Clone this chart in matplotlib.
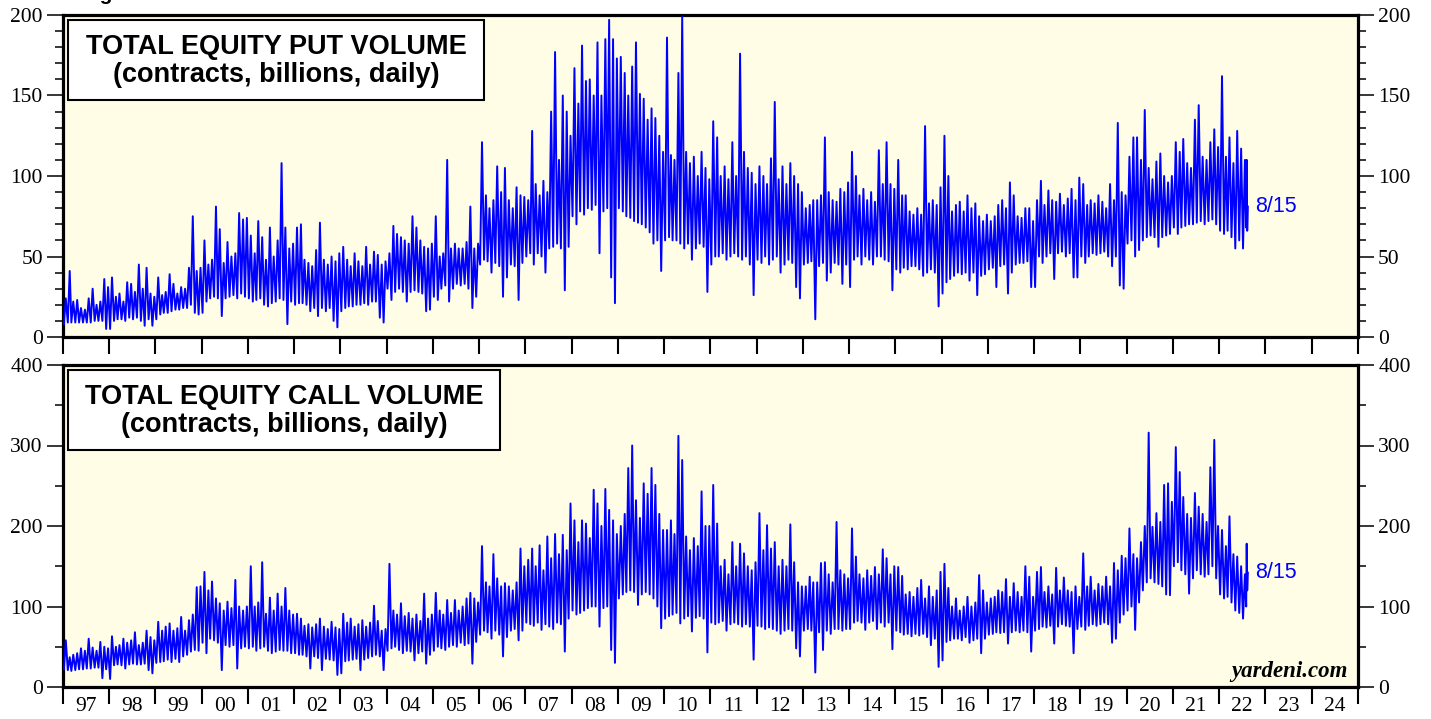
import matplotlib
matplotlib.use('Agg')
import matplotlib.pyplot as plt
import matplotlib.dates as mdates
from matplotlib.patches import Rectangle
from matplotlib.ticker import MultipleLocator, NullFormatter
import numpy as np
import pandas as pd

# monthly low / high readings, Jan 1997 .. Jul 2022 (one row per year)
put_lo = [
    8, 9, 9, 9, 9, 9, 9, 9, 10, 10, 10, 5,
    5, 10, 11, 11, 10, 12, 11, 12, 10, 7, 11, 7,
    11, 14, 15, 15, 16, 17, 17, 18, 18, 20, 15, 14,
    15, 22, 24, 25, 24, 13, 24, 25, 26, 24, 27, 25,
    24, 22, 23, 24, 20, 19, 21, 22, 24, 23, 8, 22,
    20, 21, 21, 20, 16, 18, 13, 18, 16, 18, 10, 6,
    16, 18, 19, 19, 20, 20, 21, 20, 22, 22, 12, 9,
    30, 23, 28, 30, 28, 22, 28, 29, 28, 27, 16, 17,
    25, 23, 30, 32, 22, 30, 33, 32, 33, 30, 18, 25,
    45, 48, 47, 40, 46, 44, 25, 37, 45, 44, 23, 46,
    50, 52, 45, 52, 50, 40, 55, 56, 58, 55, 29, 56,
    75, 70, 78, 76, 80, 79, 82, 52, 78, 80, 37, 21,
    80, 78, 75, 74, 72, 71, 70, 68, 65, 58, 60, 41,
    60, 62, 60, 60, 58, 55, 58, 48, 55, 58, 56, 28,
    45, 50, 50, 52, 48, 50, 52, 50, 48, 50, 45, 26,
    48, 46, 50, 45, 48, 50, 40, 45, 48, 46, 31, 24,
    45, 46, 47, 11, 44, 46, 35, 40, 46, 45, 33, 45,
    31, 48, 50, 45, 50, 48, 45, 50, 50, 48, 47, 29,
    42, 40, 43, 42, 44, 44, 42, 38, 40, 42, 40, 19,
    27, 34, 36, 38, 40, 39, 40, 35, 40, 26, 38, 39,
    42, 43, 31, 44, 45, 27, 40, 45, 46, 46, 47, 31,
    31, 50, 46, 50, 52, 36, 52, 53, 50, 52, 37, 37,
    50, 46, 50, 52, 51, 52, 53, 50, 44, 50, 32, 30,
    58, 60, 50, 54, 60, 62, 63, 62, 56, 62, 63, 64,
    68, 64, 68, 69, 70, 70, 71, 72, 70, 72, 73, 70,
    66, 64, 66, 62, 55, 60, 55,
]
put_hi = [
    24, 41, 22, 23, 18, 17, 24, 30, 20, 22, 36, 31,
    37, 25, 27, 22, 34, 33, 28, 45, 30, 43, 27, 25,
    37, 26, 28, 39, 33, 27, 31, 30, 43, 75, 41, 43,
    60, 45, 48, 81, 67, 46, 59, 50, 52, 77, 73, 74,
    63, 52, 72, 62, 48, 68, 50, 60, 108, 68, 55, 58,
    68, 70, 48, 46, 44, 54, 71, 48, 45, 50, 47, 52,
    56, 48, 44, 52, 47, 44, 56, 45, 53, 51, 45, 47,
    52, 69, 64, 62, 60, 58, 75, 68, 60, 56, 55, 58,
    75, 50, 52, 110, 55, 58, 55, 55, 59, 81, 55, 58,
    121, 88, 80, 85, 106, 90, 105, 85, 80, 93, 88, 87,
    85, 128, 95, 88, 97, 90, 140, 177, 110, 150, 140, 125,
    167, 145, 181, 159, 160, 150, 183, 150, 185, 197, 185, 173,
    174, 164, 150, 168, 183, 151, 148, 135, 142, 136, 125, 115,
    186, 113, 110, 164, 199, 115, 108, 112, 100, 115, 105, 98,
    134, 124, 100, 106, 98, 121, 100, 176, 115, 105, 102, 95,
    106, 100, 95, 111, 146, 98, 106, 95, 108, 100, 95, 90,
    80, 82, 85, 85, 88, 124, 90, 85, 84, 92, 90, 96,
    115, 100, 88, 92, 85, 90, 84, 116, 95, 121, 95, 92,
    110, 88, 88, 78, 76, 80, 76, 131, 83, 85, 82, 93,
    125, 100, 78, 82, 84, 78, 88, 80, 83, 75, 72, 76,
    72, 75, 82, 85, 80, 96, 88, 75, 74, 80, 80, 72,
    85, 97, 82, 91, 85, 84, 89, 82, 86, 92, 85, 99,
    95, 82, 85, 83, 88, 84, 80, 95, 85, 133, 90, 88,
    112, 124, 124, 110, 141, 105, 98, 109, 114, 100, 96, 100,
    121, 115, 123, 108, 105, 135, 144, 112, 110, 121, 129, 118,
    162, 112, 124, 108, 128, 117, 110,
]
call_lo = [
    22, 21, 20, 21, 22, 22, 23, 23, 24, 24, 11, 22,
    10, 27, 28, 27, 23, 28, 29, 28, 28, 29, 21, 17,
    30, 31, 32, 34, 31, 35, 31, 38, 40, 44, 46, 45,
    55, 42, 60, 58, 55, 21, 52, 50, 52, 23, 48, 50,
    48, 50, 45, 48, 50, 45, 42, 44, 46, 45, 45, 42,
    42, 40, 40, 38, 23, 38, 36, 21, 35, 34, 33, 15,
    17, 32, 33, 34, 35, 21, 34, 36, 38, 40, 38, 21,
    45, 48, 50, 46, 42, 45, 44, 33, 42, 44, 29, 40,
    45, 50, 48, 46, 50, 52, 50, 55, 52, 54, 29, 56,
    65, 70, 68, 60, 70, 65, 38, 62, 70, 72, 58, 70,
    80, 78, 76, 80, 71, 78, 75, 72, 80, 78, 44, 85,
    95, 90, 92, 95, 98, 100, 100, 75, 98, 100, 46, 30,
    110, 115, 118, 120, 118, 102, 115, 118, 115, 110, 100, 73,
    85, 88, 90, 92, 79, 85, 88, 69, 86, 88, 85, 43,
    80, 78, 80, 82, 70, 78, 80, 78, 75, 78, 75, 34,
    76, 75, 72, 74, 72, 70, 66, 70, 72, 70, 48, 38,
    70, 72, 70, 18, 68, 46, 70, 66, 72, 72, 70, 72,
    72, 80, 82, 80, 71, 80, 82, 72, 80, 75, 80, 47,
    70, 68, 65, 66, 63, 66, 64, 66, 62, 52, 60, 25,
    33, 56, 58, 60, 60, 58, 62, 55, 58, 60, 42, 60,
    65, 66, 68, 67, 68, 54, 68, 70, 68, 70, 68, 44,
    70, 72, 75, 74, 76, 54, 75, 78, 76, 75, 42, 72,
    75, 71, 76, 78, 76, 78, 80, 78, 55, 60, 80, 90,
    95, 100, 71, 105, 120, 130, 135, 130, 128, 125, 115, 114,
    150, 155, 145, 140, 116, 135, 145, 140, 137, 140, 150, 135,
    115, 110, 112, 105, 95, 92, 85,
]
call_hi = [
    58, 37, 40, 42, 48, 45, 60, 49, 45, 56, 50, 48,
    63, 50, 52, 60, 55, 58, 68, 52, 55, 70, 62, 58,
    81, 70, 75, 79, 70, 73, 87, 70, 83, 90, 124, 125,
    143, 120, 131, 110, 104, 95, 106, 98, 133, 100, 95, 100,
    150, 100, 105, 155, 91, 111, 95, 116, 100, 123, 95, 90,
    91, 85, 76, 78, 74, 78, 85, 75, 72, 81, 74, 72,
    91, 80, 85, 75, 78, 83, 75, 80, 101, 82, 70, 72,
    153, 95, 90, 104, 88, 92, 85, 90, 82, 116, 85, 90,
    117, 95, 90, 108, 92, 108, 95, 100, 110, 117, 110, 105,
    175, 130, 125, 165, 135, 125, 129, 125, 120, 130, 172, 150,
    158, 172, 150, 176, 145, 187, 160, 190, 165, 189, 170, 228,
    207, 180, 207, 203, 185, 245, 228, 200, 246, 220, 207, 190,
    200, 215, 272, 300, 232, 210, 253, 240, 272, 251, 215, 195,
    195, 207, 190, 312, 282, 187, 170, 185, 175, 243, 200, 200,
    251, 203, 150, 158, 140, 180, 150, 178, 166, 150, 145, 155,
    216, 170, 201, 172, 180, 150, 158, 150, 202, 155, 130, 125,
    125, 137, 130, 130, 154, 155, 140, 130, 205, 145, 140, 135,
    197, 162, 140, 135, 145, 138, 149, 140, 171, 160, 140, 150,
    149, 138, 115, 118, 112, 123, 133, 110, 125, 112, 120, 143,
    153, 123, 100, 110, 95, 100, 112, 100, 105, 139, 120, 105,
    110, 112, 120, 118, 134, 112, 129, 118, 112, 150, 137, 112,
    143, 149, 118, 125, 115, 148, 120, 136, 120, 118, 125, 112,
    166, 125, 137, 120, 128, 125, 137, 125, 154, 145, 163, 160,
    197, 165, 160, 180, 200, 316, 199, 216, 205, 251, 253, 230,
    298, 267, 236, 215, 210, 241, 224, 215, 205, 273, 307, 200,
    195, 175, 212, 165, 162, 150, 140,
]

# August 2022 up to the last reading (8/15)
tail_dates = ['2022-08-02', '2022-08-06', '2022-08-10', '2022-08-15']
put_tail = [68, 110, 66, 81]
call_tail = [100, 178, 120, 142]

year_labels = ['97', '98', '99', '00', '01', '02', '03', '04', '05', '06', '07', '08', '09', '10',
               '11', '12', '13', '14', '15', '16', '17', '18', '19', '20', '21', '22', '23', '24']

BG = '#fffde5'
BLUE = '#0000ff'
W, H = 1431, 719

plt.rcParams['font.family'] = 'Liberation Serif'


def build_series(lo, hi, tail):
    months = pd.date_range('1997-01-01', periods=len(lo), freq='MS')
    x_lo = months + pd.Timedelta(days=7)
    x_hi = months + pd.Timedelta(days=22)
    xs = np.empty(2 * len(lo), dtype='datetime64[ns]')
    xs[0::2] = x_lo.values
    xs[1::2] = x_hi.values
    ys = np.empty(2 * len(lo))
    ys[0::2] = lo
    ys[1::2] = hi
    xs = np.concatenate([xs, pd.to_datetime(tail_dates).values])
    ys = np.concatenate([ys, tail])
    return xs, ys


def style_axis(ax, ymax, major, minor, show_xlabels):
    ax.set_facecolor(BG)
    ax.set_xlim(pd.Timestamp('1997-01-01'), pd.Timestamp('2025-01-01'))
    ax.set_ylim(0, ymax)
    for sp in ax.spines.values():
        sp.set_linewidth(2.3)
    ax.yaxis.set_major_locator(MultipleLocator(major))
    ax.yaxis.set_minor_locator(MultipleLocator(minor))
    ax.tick_params(axis='y', which='both', direction='out', left=True, right=True,
                   labelleft=True, labelright=True, width=1.1)
    ax.tick_params(axis='y', which='major', length=11.5, labelsize=15.5, pad=3)
    ax.tick_params(axis='y', which='minor', length=5.5)
    ax.xaxis.set_major_locator(mdates.YearLocator())
    ax.xaxis.set_major_formatter(NullFormatter())
    ax.xaxis.set_minor_locator(mdates.MonthLocator(bymonth=7))
    if show_xlabels:
        ax.xaxis.set_minor_formatter(plt.FixedFormatter(year_labels))
    else:
        ax.xaxis.set_minor_formatter(NullFormatter())
    ax.tick_params(axis='x', which='major', direction='out', length=12, width=1.5)
    ax.tick_params(axis='x', which='minor', length=0, labelsize=15.5, pad=7)


def title_box(ax, x0, x1, line1, line2):
    ax.add_patch(Rectangle((x0, 0.736), x1 - x0, 0.248, transform=ax.transAxes,
                           facecolor='white', edgecolor='black', linewidth=1.5, zorder=5))
    cx = (x0 + x1) / 2
    ax.text(cx, 0.90, line1, transform=ax.transAxes, ha='center', va='center',
            family='Liberation Sans', fontweight='bold', fontsize=19.5, zorder=6)
    ax.text(cx, 0.815, line2, transform=ax.transAxes, ha='center', va='center',
            family='Liberation Sans', fontweight='bold', fontsize=19.5, zorder=6)


fig = plt.figure(figsize=(W / 100, H / 100), dpi=100)
fig.patch.set_facecolor('white')
ax_put = fig.add_axes([63 / W, 1 - 337 / H, 1295 / W, 322 / H])
ax_call = fig.add_axes([63 / W, 1 - 687 / H, 1295 / W, 322 / H])

style_axis(ax_put, 200, 50, 10, False)
style_axis(ax_call, 400, 100, 50, True)

px, py = build_series(put_lo, put_hi, put_tail)
cx, cy = build_series(call_lo, call_hi, call_tail)
ax_put.plot(px, py, color=BLUE, lw=1.4, zorder=3)
ax_call.plot(cx, cy, color=BLUE, lw=1.4, zorder=3)

title_box(ax_put, 0.004, 0.325, 'TOTAL EQUITY PUT VOLUME', '(contracts, billions, daily)')
title_box(ax_call, 0.004, 0.3375, 'TOTAL EQUITY CALL VOLUME', '(contracts, billions, daily)')

last_day = pd.Timestamp(tail_dates[-1]) + pd.Timedelta(days=60)
ax_put.text(last_day, put_tail[-1], '8/15', color=BLUE, family='Liberation Sans',
            fontsize=15.5, ha='left', va='center')
ax_call.text(last_day, call_tail[-1], '8/15', color=BLUE, family='Liberation Sans',
             fontsize=15.5, ha='left', va='center')

ax_call.text(0.992, 0.047, 'yardeni.com', transform=ax_call.transAxes, ha='right', va='center',
             family='Liberation Serif', fontweight='bold', style='italic', fontsize=16.5)

# header line above the chart, cropped in the source so only a descender shows
fig.text(82 / W, 1.0, 'Figure', family='Liberation Sans', fontweight='bold',
         fontsize=15, va='baseline', ha='left')

fig.savefig('out.png', dpi=100)
